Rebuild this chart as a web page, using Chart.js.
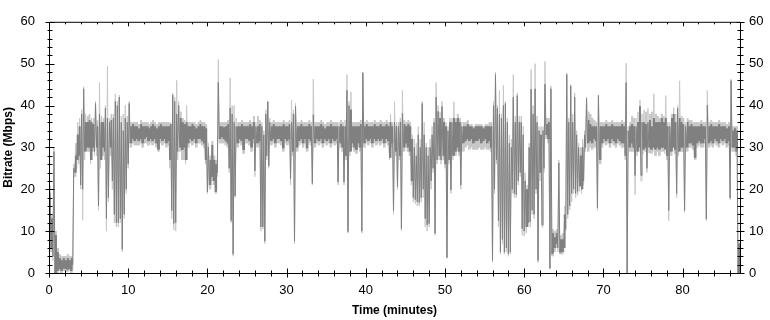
<!DOCTYPE html>
<html>
<head>
<meta charset="utf-8">
<script src="https://cdn.jsdelivr.net/npm/chart.js@4.4.0/dist/chart.umd.min.js"></script>
<style>
  html, body { margin: 0; padding: 0; background: #fff; }
  #wrap { width: 770px; height: 320px; }
</style>
</head>
<body>
<div id="wrap"><canvas id="myChart" width="770" height="320"></canvas></div>
<script>
// each bin is a quarter of a minute: lowest and highest bitrate seen in it (Mbps)
var binMinutes = 0.25;
var xTicks = [0, 10, 20, 30, 40, 50, 60, 70, 80];
var yTicks = [0, 10, 20, 30, 40, 50, 60];

var darkLo = [
 8,6,4,0, 0.5,1,0.5,1, 1,0.8,1,0.5, 2,24,27,28,
 21,20,29,30, 30,27,30,29, 30,16,27,30, 29,13,18,30,
 22,14,12,12, 13,5.7,14,20, 26,31,32,31.5, 32,31.5,32,31,
 32,32.5,31.5,32, 31.5,32,31,29.5, 32,31.5,32,31, 31.5,27,14.9,11.8,
 12,29,30,29.4, 30,27,31,32, 31.5,32,31,32, 32,31.5,31,27,
 19.4,21,23,22, 19.4,24,32,32.5, 32,31.5,31,25, 12.5,4.5,18.4,31,
 32,31.5,29.4,32, 32,31.5,30,32, 24.4,31,31.5,11, 11,7.6,28,25.6,
 31.5,32,31,32, 32,31.5,29.8,32, 31.5,32,22.5,29, 7.6,30,31.5,32,
 31,32,29.8,32, 31.5,21.4,31,32, 31.5,32,31,32, 31.5,32,31,32,
 31.5,32,21.7,31, 30,21.7,28,9.9, 29,31,30,29.4, 31,30,10,31,
 32,31.5,32,31, 32,31.5,32,31.5, 32,31,32,31.5, 27.5,31,14.9,29,
 20.6,28,10.6,30, 31,30,29,22, 18,17.5,17,16.8, 18,20,13,11.5,
 11.8,22,25,9.5, 27,28,27,28, 26,3.7,27,19.8, 28,29,30,29,
 21,31,31.5,32, 31.5,32,31,31.5, 31.5,32,31,31.5, 32,31,31.5,30,
 3,20,27,12.5, 5,8,5,6, 4.6,5,20,19, 18.7,22,24,10.6,
 10,11,12,12.2, 15,14,20,3, 24,11.5,25,33, 32,1.1,4.6,6,
 7,6,4.9,5, 6,10.6,14,16, 19,20,19,19.5, 20.7,20,22,30,
 31,31.5,31,32, 31.5,15.6,27,31, 32,31.5,32,31, 32,31.5,31,32,
 31.5,31,31,28, 0,30,31,30, 23.3,29,30,23.3, 29.5,30,25,30,
 29.5,30,29.5,30, 29.5,30,30,29.5, 28,14.9,29,30, 29.5,19,29,30,
 30,14.9,30,31, 31,30.5,27.5,31, 31.5,31,31,32, 12.9,31,31.5,31,
 32,31.5,31,32, 31.5,32,31,31.5, 17.9,30,30,29, 0
];
var darkHi = [
 19,13,29,9, 5,3.5,3,3.5, 3,3.5,3,3.5, 25,28,33,35,
 38,44,36,36, 36.5,36,35.5,40.5, 35,38,36,36, 39.4,37,36,36.5,
 37,41,40,42, 36,34,37,36, 40.5,35,35.5,35, 35,34.5,35.5,35,
 35,35,34.5,35, 35.5,35,34.5,35, 35.5,35,35,35, 35,35.5,42.5,41,
 38,40,37,36, 35.5,36,35,35, 35.5,35,34.5,35, 35.5,35,35,34.5,
 30,27,30.6,27, 26,45.5,35,35, 34.8,35,35.5,39.4, 38,36,35,35,
 35,35.5,35,35, 35,35.5,35,36, 35,35,35.5,35, 33,38,40.9,36,
 35,35.5,35,35, 35,35,35.5,35, 35,35.5,36,38, 39.8,35,35,35.5,
 35,35,35,35.5, 35,37.8,35,35, 35,35.5,35,34.5, 35,35,35.5,35,
 35,35,35,35.5, 35,35,43.6,40, 39,35,35,35, 35,35.5,47.8,35,
 35.5,35,35,35, 35.5,35,35,35.5, 35,35,35.5,35, 36,35,36,35,
 35,36,38.2,35.5, 35,35.5,35,32, 30,28,33,30, 40.5,33,30,28,
 30,33,36,42, 38.6,37,39.8,36, 35,34,36,36, 37,36,37,36,
 35,35,35,35.5, 35,35,34.5,35, 35,35,35,34.5, 35,35,35,35,
 40,47.4,39.4,38, 37,40,40.5,36, 31,30,42,36, 42.4,36,36,33,
 22,20,30,43.9, 38,44,36,34, 33,34,45.1,35.5, 36,44,9.5,8.5,
 9.5,26.3,8,8, 14,47.4,36,44.7, 36,42,33,30, 28,30,33,41.7,
 36.5,35.5,35,35, 35,42.4,35,35, 35,35.5,35,35, 35.5,35,35,35,
 35,35.5,35,45.5, 34,35,35.5,35, 35,36,39.8,36, 36,35.5,36,36.5,
 35,37,36,36, 36,37,36,37, 35,35,37,38, 36,39.4,37,36,
 35.5,35,36,35, 35.5,35,35,35, 35,35.5,35,35, 40.1,35,35.5,35,
 35,35,35.5,35, 35,35,34.5,35, 45.9,34,34.5,34, 7
];
var lightLo = [
 6,5,3,0, 0,0.5,0,0.5, 0.5,0.3,0.5,0, 1,23,25,26,
 20,12.6,27,29, 29,26,29,28, 28,15,25,28, 27,10,17,28,
 20,12,11,11, 12,5,13,19, 25,30,31,30.5, 30.5,30.5,31,30,
 31,31,30.5,31, 30.5,31,30,29, 31,30.5,31,30, 30.5,25,13,10.3,
 10,27,29,27, 27,26,30,31, 30.5,31,30,31, 31,30.5,30,26,
 19,20,22,21, 19,23,31,31, 31,30.5,30,24, 12,4,18,30,
 31,30.5,28.5,31, 31,30.5,29,31, 23,30,30.5,10, 10.5,7,27,25,
 30.5,31,30,31, 31,30.5,29,31, 30.5,31,21,28, 7,29,30.5,31,
 30,31,29,31, 30.5,21,30,31, 30.5,31,30,31, 30.5,31,30,31,
 30.5,31,21,30, 29,21,27,9.5, 28,30,29,28.5, 30,29,9.5,30,
 31,30.5,31,30, 31,30.5,31,30.5, 31,30,31,30.5, 27,30,14,28,
 20,27,10,29, 30,29,28,21, 17,16.5,16,16, 17,18,11,10,
 11,20,24,9, 26,27,26,27, 25,3.5,26,19, 27,28,29,28,
 20,29,30,30.5, 29.5,30,29.5,29.5, 29.5,30,29.5,29.5, 30,29.5,29.5,29,
 2.5,19,26,11, 4.5,7,4.5,5, 4,4.5,19,18, 18,21,23,9,
 8.8,9.5,11,11, 14,13,19,2.5, 22,11,24,32, 31,1,4,5,
 6,5,4.5,4.5, 5,10,13,15, 17,19,18,18.5, 19.5,19,21,29,
 29,30,29.5,30, 30,15,26,30, 31,30.5,31,30, 31,30.5,30,31,
 30.5,30,30,27, 0,29,29,29, 18.7,28,29,22, 28.5,29,24,28.7,
 28.5,29,28,29, 28,29,29,28.5, 27,12.5,28,29, 28.5,18,28,29,
 29,14.5,29,30, 30,29.5,27,30, 30.5,30,30,31, 12.5,30,30.5,30,
 31,30.5,30,31, 30.5,31,30,30.5, 17.5,29,29,28, 0
];
var lightHi = [
 21,14,30,10, 6,4.5,4,4, 4,4.5,4,4, 26,31,36,37,
 39,44.5,38,37.5, 38,37,37,41, 36.5,45.5,37.5,37, 40,49.4,37,38,
 38,42.8,41,42.5, 37.5,38,40,37.5, 41,36,36,36, 36,35.5,36.5,36,
 36,36,35.5,36, 36.5,36,35.5,36, 36,36,36,36, 36,36,43,42,
 46,41,38.5,37, 36.5,40,36,36, 36,36,35.5,36, 36.5,36,36,35.5,
 31,28,31.5,28, 27,51,36,36, 36,36,36.5,46.6, 40,40,37,36,
 36,36.5,36,36, 36,36.5,36,37.5, 36,37.5,36.5,36, 34,39,41,37,
 36,36.5,36,36, 36,36,36.5,36, 36,36.5,41.3,39, 40.5,36,36,36.5,
 36,36,36,36.5, 36,46.3,36,36, 36,36.5,36,35.5, 36,36,36.5,36,
 36,36,36,36.5, 36,36.5,47.4,41, 43.2,36,36,36, 36,36.5,48,36,
 36.5,36,36,36, 36.5,36,36,36.5, 36,36,36.5,36, 38,36,40.9,36,
 36,37,43.6,36.5, 36,36.5,36,33, 32,31,35,32, 41,36,31,30,
 32,35,37,45.5, 40,38.5,41,37, 36,35,37,37, 40.9,37,38,37,
 36,36,36,36.5, 35.5,35.5,35,35.5, 35.5,35.5,35.5,35, 35.5,35.5,36,36,
 41,48,40,43.6, 38,44.8,41,37, 33,32,47.4,37.5, 43,37.5,37.5,35,
 24,21,31,48.6, 40,50,37.5,35, 35,35,50.5,37, 37,44.7,10.5,10,
 10.5,27,9,9.5, 16,47.8,37,45, 38,43,34,31, 30,32,34,42,
 38.5,38,37,36.5, 36,42.5,36,36, 36,36.5,36,36, 36.5,36,36,36,
 36,36.5,36,50.1, 35,36,37.5,37, 37,38.5,41.3,38, 39,38.5,39.3,38,
 38.5,42.8,38,37.5, 37,38,37.5,42.4, 36,36,38,39.5, 38,40,45.9,37.5,
 37,36,37,36.5, 36.5,36,36,36, 36,36.5,36,36, 43.6,36,36.5,36,
 36,36,36.5,36, 36,36,35.5,36, 46.3,35,35,35, 7.5
];

var darkColor = '#808080', lightColor = '#c8c8c8';
var solidRange = 10; // bins narrower than this are painted solid, wider ones only as a thin trace

// one point per bin start, plus the end of the last bin, drawn as steps
function stepPoints(vals){
  var pts = vals.map(function(v, i){ return {x: i*binMinutes, y: v}; });
  pts.push({x: vals.length*binMinutes, y: vals[vals.length-1]});
  return pts;
}
// low then high inside every bin, joined as a 1px trace
function zigzag(lo, hi){
  var pts = [];
  for (var i = 0; i < lo.length; i++){
    pts.push({x: i*binMinutes, y: lo[i]});
    pts.push({x: i*binMinutes + binMinutes/2, y: hi[i]});
  }
  return pts;
}

function series(lo, hi, color, order){
  return [
    {data: zigzag(lo, hi), borderColor: color, borderWidth: 1, pointRadius: 0, tension: 0, fill: false, order: order},
    {data: stepPoints(hi), stepped: true, fill: '+1', backgroundColor: color,
     borderColor: 'rgba(0,0,0,0)', borderWidth: 1, pointRadius: 0, order: order,
     segment: {backgroundColor: function(c){
       var i = c.p0DataIndex;
       return (i < lo.length && hi[i] - lo[i] <= solidRange) ? color : 'rgba(0,0,0,0)';
     }}},
    {data: stepPoints(lo), stepped: true, fill: false, borderColor: 'rgba(0,0,0,0)', borderWidth: 1, pointRadius: 0, order: order}
  ];
}

// axis frame with ticks crossing the lines
var frame = {
  id: 'frame',
  afterDraw: function(chart){
    var ctx = chart.ctx, a = chart.chartArea;
    var x = chart.scales.x, y = chart.scales.y;
    var L = a.left + 0.5, R = a.right + 0.5, T = a.top + 0.5, B = a.bottom + 0.5;
    ctx.save();
    ctx.strokeStyle = '#000';
    ctx.lineWidth = 1;
    ctx.beginPath();
    ctx.moveTo(L, T); ctx.lineTo(R, T); ctx.lineTo(R, B); ctx.lineTo(L, B); ctx.closePath();
    for (var v = 0; v <= 60; v += 2){
      var py = Math.round(y.getPixelForValue(v)) + 0.5;
      var major = yTicks.indexOf(v) >= 0;
      ctx.moveTo(L - (major ? 4 : 2), py); ctx.lineTo(L + (major ? 5 : 3), py);
      ctx.moveTo(R - (major ? 4 : 3), py); ctx.lineTo(R + (major ? 4 : 3), py);
    }
    for (var t = 0; t <= 86; t += 2){
      var px = Math.round(x.getPixelForValue(t)) + 0.5;
      var maj = xTicks.indexOf(t) >= 0;
      ctx.moveTo(px, B - (maj ? 5 : 3)); ctx.lineTo(px, B + (maj ? 4 : 3));
      ctx.moveTo(px, T); ctx.lineTo(px, T + (maj ? 4 : 2));
    }
    ctx.stroke();
    ctx.restore();
  }
};

var tickFont = {family: 'Arial', size: 13};
var titleFont = {family: 'Arial', size: 12, weight: 'bold'};

new Chart(document.getElementById('myChart'), {
  type: 'line',
  data: {
    datasets: series(darkLo, darkHi, darkColor, 1).concat(series(lightLo, lightHi, lightColor, 2))
  },
  options: {
    responsive: false,
    animation: false,
    events: [],
    layout: {padding: {top: 12, left: 0, right: 0, bottom: 0}},
    plugins: {legend: {display: false}, tooltip: {enabled: false}},
    scales: {
      x: {
        type: 'linear', position: 'bottom', min: 0, max: 87.25,
        grid: {display: false, drawTicks: false}, border: {display: false},
        afterBuildTicks: function(s){ s.ticks = xTicks.map(function(v){ return {value: v}; }); },
        afterFit: function(s){ s.height = 47; },
        ticks: {color: '#000', font: tickFont, padding: 10, maxRotation: 0, autoSkip: false},
        title: {display: true, text: 'Time (minutes)', color: '#000', font: titleFont, padding: {top: 0, bottom: 2}}
      },
      y: {
        position: 'left', min: 0, max: 60,
        grid: {display: false, drawTicks: false}, border: {display: false},
        afterBuildTicks: function(s){ s.ticks = yTicks.map(function(v){ return {value: v}; }); },
        afterFit: function(s){ s.width = 49; },
        ticks: {color: '#000', font: tickFont, padding: 14},
        title: {display: true, text: 'Bitrate (Mbps)', color: '#000', font: titleFont, padding: {top: 1, bottom: 0}}
      },
      y2: {
        position: 'right', min: 0, max: 60,
        grid: {display: false, drawTicks: false}, border: {display: false},
        afterBuildTicks: function(s){ s.ticks = yTicks.map(function(v){ return {value: v}; }); },
        afterFit: function(s){ s.width = 30; },
        ticks: {color: '#000', font: tickFont, padding: 9}
      }
    }
  },
  plugins: [frame]
});
</script>
</body>
</html>
